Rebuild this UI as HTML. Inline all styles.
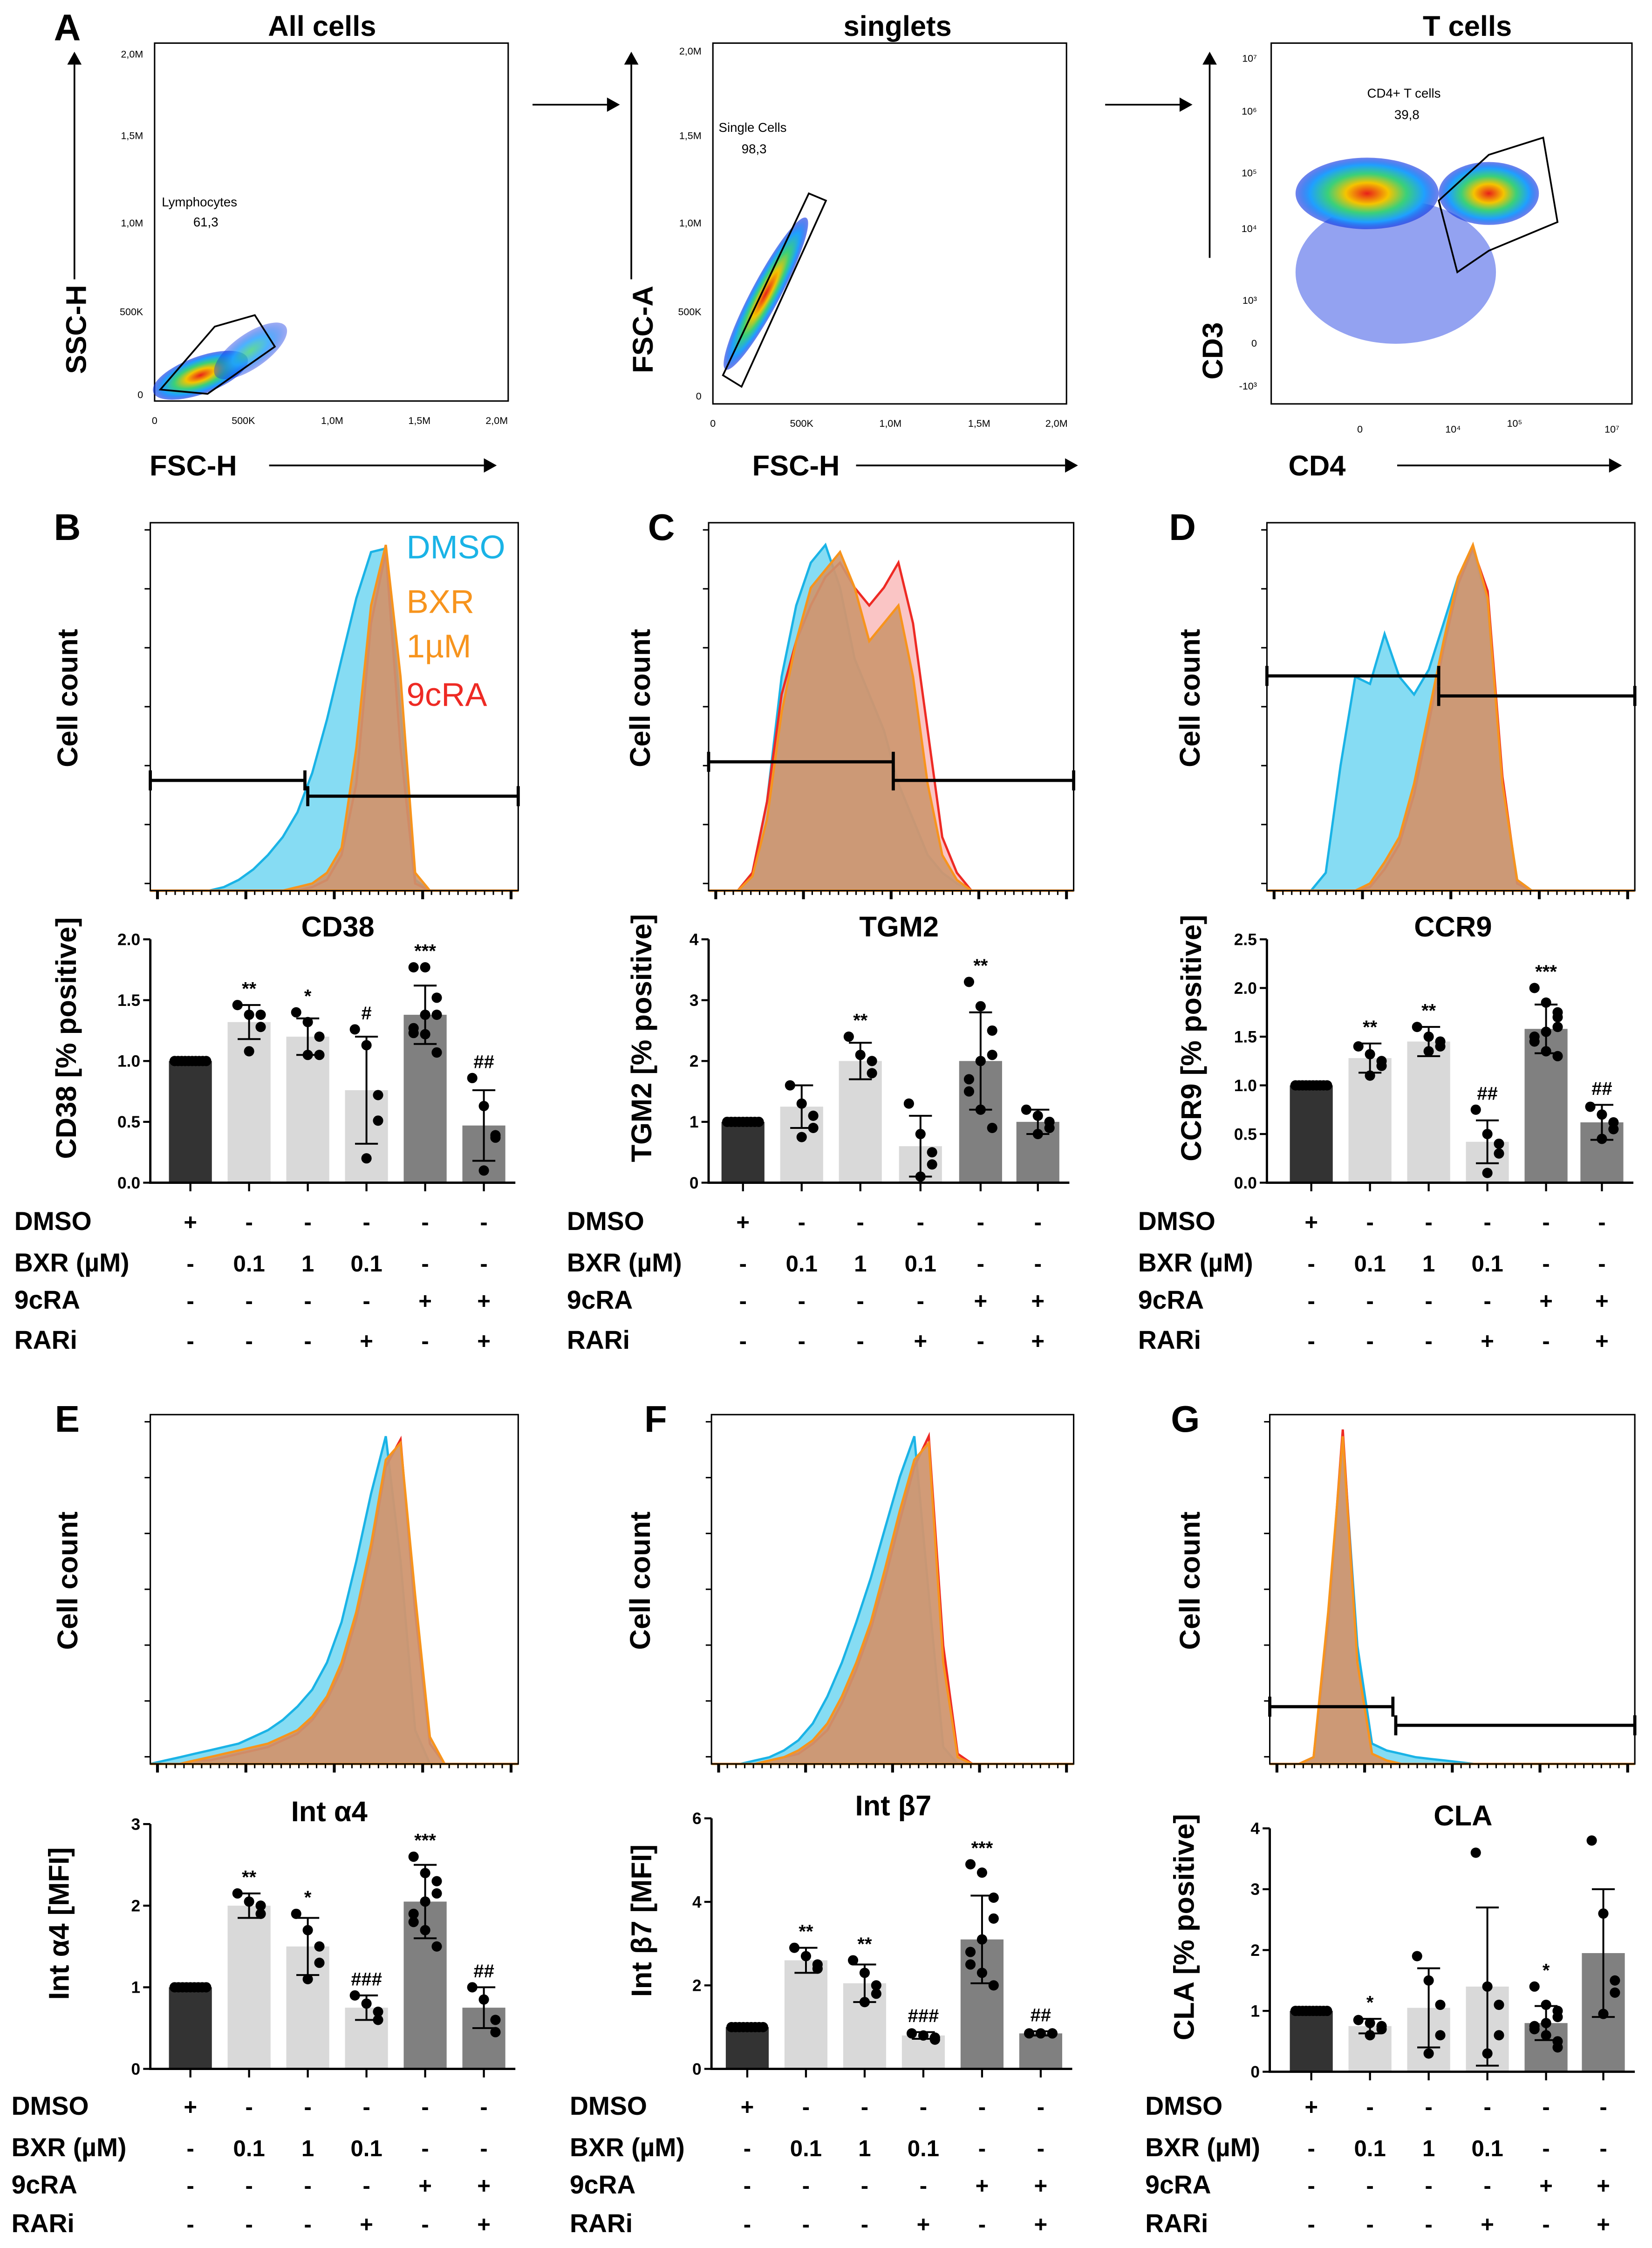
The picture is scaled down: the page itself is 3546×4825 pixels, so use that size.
<!DOCTYPE html>
<html><head><meta charset="utf-8"><style>
html,body{margin:0;padding:0;background:#fff;}
svg{display:block;}
text{font-family:"Liberation Sans",Arial,sans-serif;}
</style></head><body>
<svg id="fig" xmlns="http://www.w3.org/2000/svg" width="3546" height="4825" viewBox="0 0 1154 1570">
<rect x="0" y="0" width="1154" height="1570" fill="#fff"/>
<defs>
<radialGradient id="dens" cx="50%" cy="50%" r="50%">
<stop offset="0" stop-color="#e8201a"/><stop offset="0.3" stop-color="#f5c400"/><stop offset="0.55" stop-color="#3ad07a"/><stop offset="0.8" stop-color="#1fa0ff"/><stop offset="1" stop-color="#1030e0" stop-opacity="0.6"/>
</radialGradient>
<radialGradient id="dens2" cx="50%" cy="50%" r="50%">
<stop offset="0" stop-color="#3ad07a"/><stop offset="0.5" stop-color="#1fa0ff"/><stop offset="1" stop-color="#1030e0" stop-opacity="0.5"/>
</radialGradient>
</defs>
<g id="flow">
<text x="47" y="28" font-size="26" font-weight="bold" text-anchor="middle">A</text>
<text x="225" y="25" font-size="20" font-weight="bold" text-anchor="middle">All cells</text>
<rect x="108" y="30" width="247" height="250" fill="none" stroke="#000" stroke-width="1"/>
<ellipse cx="140" cy="262" rx="35" ry="13" fill="url(#dens)" transform="rotate(-20 140 262)"/>
<ellipse cx="175" cy="245" rx="30" ry="12" fill="url(#dens2)" opacity="0.8" transform="rotate(-35 175 245)"/>
<polygon points="112,272 150,228 178,220 192,242 145,275" fill="none" stroke="#000" stroke-width="1.2"/>
<text x="113" y="144" font-size="9">Lymphocytes</text>
<text x="135" y="158" font-size="9">61,3</text>
<g font-size="7" text-anchor="end">
<text x="100" y="40">2,0M</text><text x="100" y="97">1,5M</text><text x="100" y="158">1,0M</text><text x="100" y="220">500K</text><text x="100" y="278">0</text>
</g>
<g font-size="7" text-anchor="middle">
<text x="108" y="296">0</text><text x="170" y="296">500K</text><text x="232" y="296">1,0M</text><text x="293" y="296">1,5M</text><text x="347" y="296">2,0M</text>
</g>
<text transform="translate(60,230) rotate(-90)" font-size="20" font-weight="bold" text-anchor="middle">SSC-H</text>
<line x1="52" y1="195" x2="52" y2="45" stroke="#000" stroke-width="1.2"/><polygon points="47,45 57,45 52,36" fill="#000"/>
<text x="135" y="332" font-size="20" font-weight="bold" text-anchor="middle">FSC-H</text>
<line x1="188" y1="325" x2="338" y2="325" stroke="#000" stroke-width="1.2"/><polygon points="338,320 338,330 347,325" fill="#000"/>
<line x1="372" y1="73" x2="424" y2="73" stroke="#000" stroke-width="1.2"/><polygon points="424,68 424,78 433,73" fill="#000"/>
<text x="627" y="25" font-size="20" font-weight="bold" text-anchor="middle">singlets</text>
<rect x="498" y="30" width="247" height="252" fill="none" stroke="#000" stroke-width="1"/>
<ellipse cx="535" cy="205" rx="60" ry="10" fill="url(#dens)" transform="rotate(-62 535 205)"/>
<polygon points="505,262 565,135 577,140 518,270" fill="none" stroke="#000" stroke-width="1.2"/>
<text x="502" y="92" font-size="9">Single Cells</text><text x="518" y="107" font-size="9">98,3</text>
<g font-size="7" text-anchor="end">
<text x="490" y="38">2,0M</text><text x="490" y="97">1,5M</text><text x="490" y="158">1,0M</text><text x="490" y="220">500K</text><text x="490" y="279">0</text>
</g>
<g font-size="7" text-anchor="middle">
<text x="498" y="298">0</text><text x="560" y="298">500K</text><text x="622" y="298">1,0M</text><text x="684" y="298">1,5M</text><text x="738" y="298">2,0M</text>
</g>
<text transform="translate(456,230) rotate(-90)" font-size="20" font-weight="bold" text-anchor="middle">FSC-A</text>
<line x1="441" y1="195" x2="441" y2="45" stroke="#000" stroke-width="1.2"/><polygon points="436,45 446,45 441,36" fill="#000"/>
<text x="556" y="332" font-size="20" font-weight="bold" text-anchor="middle">FSC-H</text>
<line x1="598" y1="325" x2="744" y2="325" stroke="#000" stroke-width="1.2"/><polygon points="744,320 744,330 753,325" fill="#000"/>
<line x1="772" y1="73" x2="824" y2="73" stroke="#000" stroke-width="1.2"/><polygon points="824,68 824,78 833,73" fill="#000"/>
<text x="1025" y="25" font-size="20" font-weight="bold" text-anchor="middle">T cells</text>
<rect x="888" y="30" width="252" height="252" fill="none" stroke="#000" stroke-width="1"/>
<ellipse cx="975" cy="190" rx="70" ry="50" fill="#1030e0" opacity="0.45"/>
<ellipse cx="955" cy="135" rx="50" ry="25" fill="url(#dens)"/>
<ellipse cx="1040" cy="135" rx="35" ry="22" fill="url(#dens)"/>
<polygon points="1005,140 1040,108 1078,96 1088,155 1040,175 1018,190" fill="none" stroke="#000" stroke-width="1.2"/>
<text x="955" y="68" font-size="9">CD4+ T cells</text><text x="974" y="83" font-size="9">39,8</text>
<g font-size="7" text-anchor="end">
<text x="878" y="43">10⁷</text><text x="878" y="80">10⁶</text><text x="878" y="123">10⁵</text><text x="878" y="162">10⁴</text><text x="878" y="212">10³</text><text x="878" y="242">0</text><text x="878" y="272">-10³</text>
</g>
<g font-size="7" text-anchor="middle">
<text x="950" y="302">0</text><text x="1015" y="302">10⁴</text><text x="1058" y="298">10⁵</text><text x="1126" y="302">10⁷</text>
</g>
<text transform="translate(854,245) rotate(-90)" font-size="20" font-weight="bold" text-anchor="middle">CD3</text>
<line x1="845" y1="180" x2="845" y2="45" stroke="#000" stroke-width="1.2"/><polygon points="840,45 850,45 845,36" fill="#000"/>
<text x="920" y="332" font-size="20" font-weight="bold" text-anchor="middle">CD4</text>
<line x1="976" y1="325" x2="1124" y2="325" stroke="#000" stroke-width="1.2"/><polygon points="1124,320 1124,330 1133,325" fill="#000"/>
</g>
<g id="hists"></g>
<g id="bars"></g>
</svg>
<script>
const histBDmso=[0,0,0,0,0,0.01,0.03,0.06,0.1,0.15,0.22,0.33,0.48,0.65,0.82,0.95,0.96,0.5,0.03,0,0,0,0,0,0,0];
const histBBxr=[0,0,0,0,0,0,0,0,0,0,0.01,0.02,0.05,0.12,0.4,0.8,0.97,0.6,0.05,0,0,0,0,0,0,0];
const histB9cra=[0,0,0,0,0,0,0,0,0,0,0,0.01,0.03,0.1,0.3,0.75,0.95,0.4,0.02,0,0,0,0,0,0,0];
const histCDmso=[0,0,0,0.05,0.25,0.6,0.8,0.92,0.97,0.85,0.65,0.55,0.45,0.3,0.2,0.1,0.05,0.02,0,0,0,0,0,0,0,0];
const histCBxr=[0,0,0,0.04,0.2,0.5,0.7,0.85,0.9,0.95,0.85,0.7,0.75,0.8,0.6,0.3,0.1,0.03,0,0,0,0,0,0,0,0];
const histC9cra=[0,0,0,0.05,0.25,0.55,0.7,0.8,0.88,0.92,0.85,0.8,0.85,0.92,0.75,0.45,0.15,0.05,0,0,0,0,0,0,0,0];
const histDDmso=[0,0,0,0,0.05,0.35,0.6,0.58,0.72,0.6,0.55,0.62,0.75,0.88,0.96,0.8,0.3,0.03,0,0,0,0,0,0,0,0];
const histDBxr=[0,0,0,0,0,0,0,0.02,0.08,0.15,0.3,0.5,0.7,0.88,0.97,0.82,0.3,0.03,0,0,0,0,0,0,0,0];
const histD9cra=[0,0,0,0,0,0,0,0.01,0.06,0.13,0.27,0.47,0.68,0.86,0.96,0.84,0.32,0.02,0,0,0,0,0,0,0,0];
const histEDmso=[0,0.01,0.02,0.03,0.04,0.05,0.06,0.08,0.1,0.13,0.17,0.22,0.3,0.42,0.6,0.8,0.97,0.6,0.1,0,0,0,0,0,0,0];
const histEBxr=[0,0,0,0.01,0.02,0.03,0.04,0.05,0.06,0.08,0.1,0.14,0.2,0.3,0.45,0.65,0.9,0.95,0.5,0.08,0,0,0,0,0,0];
const histE9cra=[0,0,0,0.01,0.01,0.02,0.03,0.04,0.05,0.07,0.09,0.13,0.19,0.28,0.43,0.63,0.88,0.96,0.45,0.06,0,0,0,0,0,0];
const histFDmso=[0,0,0,0.01,0.02,0.04,0.07,0.12,0.2,0.3,0.42,0.55,0.7,0.85,0.97,0.5,0.05,0,0,0,0,0,0,0,0,0];
const histFBxr=[0,0,0,0,0.01,0.02,0.04,0.07,0.12,0.2,0.3,0.42,0.58,0.75,0.9,0.95,0.3,0.02,0,0,0,0,0,0,0,0];
const histF9cra=[0,0,0,0,0.01,0.02,0.03,0.06,0.1,0.18,0.28,0.4,0.55,0.72,0.88,0.97,0.35,0.03,0,0,0,0,0,0,0,0];
const histGDmso=[0,0,0,0.02,0.4,0.97,0.35,0.06,0.04,0.03,0.02,0.015,0.01,0.005,0,0,0,0,0,0,0,0,0,0,0,0];
const histGBxr=[0,0,0,0.02,0.45,0.97,0.3,0.03,0.01,0,0,0,0,0,0,0,0,0,0,0,0,0,0,0,0,0];
const histG9cra=[0,0,0,0.02,0.42,0.99,0.3,0.03,0.01,0,0,0,0,0,0,0,0,0,0,0,0,0,0,0,0,0];

const conditions=["DMSO","BXR 0.1","BXR 1","BXR 0.1 + RARi","9cRA","9cRA + RARi"];
const cd38Means=[1.0,1.32,1.2,0.76,1.38,0.47];
const cd38Err=[0,0.14,0.15,0.44,0.24,0.29];
const cd38Pts=[[1,1,1,1,1,1,1,1,1,1],[1.46,1.38,1.38,1.28,1.08],[1.4,1.32,1.2,1.05,1.05],[1.26,1.13,0.72,0.51,0.2],[1.77,1.77,1.52,1.38,1.38,1.27,1.23,1.22,1.07,1.07],[0.86,0.63,0.39,0.37,0.1]];
const cd38Sig=["","**","*","#","***","##"];
const cd38Ticks=["0.0","0.5","1.0","1.5","2.0"];
const tgm2Means=[1.0,1.25,2.0,0.6,2.0,1.0];
const tgm2Err=[0,0.35,0.3,0.5,0.8,0.2];
const tgm2Pts=[[1,1,1,1,1,1,1,1,1],[1.6,1.3,1.1,0.9,0.75],[2.4,2.1,2.0,1.8],[1.3,0.8,0.5,0.3,0.1],[3.3,2.9,2.5,2.1,2.0,1.7,1.5,1.2,0.9],[1.2,1.1,1.0,0.9,0.8]];
const tgm2Sig=["","","**","","**",""];
const tgm2Ticks=["0","1","2","3","4"];
const ccr9Means=[1.0,1.28,1.45,0.42,1.58,0.62];
const ccr9Err=[0,0.15,0.15,0.22,0.25,0.18];
const ccr9Pts=[[1,1,1,1,1,1,1,1,1,1],[1.4,1.32,1.25,1.2,1.1],[1.6,1.5,1.45,1.4,1.35],[0.75,0.5,0.4,0.3,0.1],[2.0,1.85,1.75,1.6,1.55,1.5,1.45,1.35,1.3,1.7],[0.78,0.7,0.62,0.55,0.45]];
const ccr9Sig=["","**","**","##","***","##"];
const ccr9Ticks=["0.0","0.5","1.0","1.5","2.0","2.5"];
const a4Means=[1.0,2.0,1.5,0.75,2.05,0.75];
const a4Err=[0,0.15,0.35,0.15,0.45,0.25];
const a4Pts=[[1,1,1,1,1,1,1,1,1],[2.15,2.05,2.0,1.9],[1.9,1.7,1.5,1.3,1.1],[0.9,0.8,0.7,0.6],[2.6,2.4,2.3,2.15,2.05,1.9,1.8,1.7,1.5],[1.0,0.85,0.6,0.45]];
const a4Sig=["","**","*","###","***","##"];
const a4Ticks=["0","1","2","3"];
const b7Means=[1.0,2.6,2.05,0.8,3.1,0.85];
const b7Err=[0,0.3,0.45,0.08,1.05,0.05];
const b7Pts=[[1,1,1,1,1,1,1,1,1],[2.9,2.7,2.5,2.4],[2.6,2.3,2.0,1.8,1.6],[0.85,0.8,0.75,0.7],[4.9,4.7,4.1,3.6,3.1,2.8,2.5,2.3,2.0],[0.85,0.85,0.85,0.85]];
const b7Sig=["","**","**","###","***","##"];
const b7Ticks=["0","2","4","6"];
const claMeans=[1.0,0.75,1.05,1.4,0.8,1.95];
const claErr=[0,0.12,0.65,1.3,0.28,1.05];
const claPts=[[1,1,1,1,1,1,1,1,1,1],[0.85,0.8,0.75,0.7,0.6],[1.9,1.5,1.1,0.6,0.3],[3.6,1.4,1.1,0.6,0.3],[1.4,1.1,1.0,0.9,0.8,0.75,0.7,0.6,0.5,0.4],[3.8,2.6,1.5,1.3,0.95]];
const claSig=["","*","","","*",""];
const claTicks=["0","1","2","3","4"];
const rowDmso=["+","-","-","-","-","-"];
const rowBxr=["-","0.1","1","0.1","-","-"];
const row9cra=["-","-","-","-","+","+"];
const rowRari=["-","-","-","+","-","+"];
const barColors=["#333333","#d9d9d9","#d9d9d9","#d9d9d9","#808080","#808080"];

const NS="http://www.w3.org/2000/svg";
function mk(tag,parent){const e=document.createElementNS(NS,tag);parent.appendChild(e);return e;}
const H=document.getElementById('hists');
const B=document.getElementById('bars');

function hist(letter,x0,y0,w,h,dm,bx,ra,gates,labelX,ylX){
  const g=mk('g',H);
  
  
  const sx=i=>x0+i*w/(dm.length-1);
  const sy=v=>y0+h-v*(h-8);
  function area(arr,fill,stroke,name){
    let d='M'+x0+','+(y0+h);
    arr.forEach((v,i)=>{d+=' L'+sx(i).toFixed(1)+','+sy(v).toFixed(1);});
    d+=' L'+(x0+w)+','+(y0+h)+'Z';
    const p=mk('path',g);
    p.setAttribute('d',d);p.setAttribute('fill',fill);p.setAttribute('stroke',stroke);p.setAttribute('stroke-width','1.6');
    
    
  }
  area(dm,'#86dcf3','#1ab3e6','histogram-dmso-'+letter);
  area(ra,'rgba(245,150,150,0.55)','#ee2a24','histogram-9cra-'+letter);
  area(bx,'rgba(205,150,110,0.9)','#f7941d','histogram-bxr-'+letter);
  const fr=mk('rect',g);
  fr.setAttribute('x',x0);fr.setAttribute('y',y0);fr.setAttribute('width',w);fr.setAttribute('height',h);fr.setAttribute('fill','none');fr.setAttribute('stroke','#000');fr.setAttribute('stroke-width','1');
  
  
  for(let i=0;i<=40;i++){
    const t=mk('line',g);const xx=x0+5+i*(w-10)/40;const big=(i%10==0);
    t.setAttribute('x1',xx);t.setAttribute('x2',xx);t.setAttribute('y1',y0+h);t.setAttribute('y2',y0+h+(big?6:3));t.setAttribute('stroke','#000');t.setAttribute('stroke-width',big?2:1);
  }
  for(let i=0;i<=6;i++){
    const t=mk('line',g);const yy=y0+5+i*(h-10)/6;
    t.setAttribute('x1',x0-4);t.setAttribute('x2',x0);t.setAttribute('y1',yy);t.setAttribute('y2',yy);t.setAttribute('stroke','#000');
  }
  if(gates){
    gates.forEach((gt,k)=>{
      const l=mk('path',g);
      l.setAttribute('d','M'+gt[0]+','+(gt[2]-7)+' V'+(gt[2]+7)+' M'+gt[0]+','+gt[2]+' H'+gt[1]+' M'+gt[1]+','+(gt[2]-7)+' V'+(gt[2]+7));
      l.setAttribute('stroke','#000');l.setAttribute('stroke-width','2.2');l.setAttribute('fill','none');
      
      
    });
  }
  const lt=mk('text',g);lt.textContent=letter;
  lt.setAttribute('x',labelX);lt.setAttribute('y',y0+12);lt.setAttribute('font-size','26');lt.setAttribute('font-weight','bold');lt.setAttribute('text-anchor','middle');
  
  
  const yl=mk('text',g);yl.textContent='Cell count';
  yl.setAttribute('transform','translate('+ylX+','+(y0+h/2-6)+') rotate(-90)');yl.setAttribute('font-size','20');yl.setAttribute('font-weight','bold');yl.setAttribute('text-anchor','middle');
  
  
}
hist('B',105,365,257,257,histBDmso,histBBxr,histB9cra,[[105,213,545],[215,362,556]],47,54);
hist('C',495,365,255,257,histCDmso,histCBxr,histC9cra,[[495,624,532],[624,750,545]],462,454);
hist('D',885,365,257,257,histDDmso,histDBxr,histD9cra,[[885,1005,472],[1005,1142,486]],826,838);
hist('E',105,988,257,244,histEDmso,histEBxr,histE9cra,null,47,54);
hist('F',497,988,253,244,histFDmso,histFBxr,histF9cra,null,458,454);
hist('G',887,988,255,244,histGDmso,histGBxr,histG9cra,[[887,973,1192],[975,1142,1205]],828,838);

[["DMSO","#1ab3e6",390],["BXR","#f7941d",428],["1µM","#f7941d",459],["9cRA","#ee2a24",493]].forEach((l,i)=>{
  const t=mk('text',H);t.textContent=l[0];
  t.setAttribute('x',284);t.setAttribute('y',l[2]);t.setAttribute('font-size','23');t.setAttribute('fill',l[1]);
  
  
});

function barChart(id,title,ylabel,axisX,yTop,yBot,maxV,ticks,means,err,pts,sig,centers,labelX,rowsY,titleX,ylX){
  const g=mk('g',B);
  
  
  const sy=v=>yBot-(v/maxV)*(yBot-yTop);
  const bw=30;
  means.forEach((m,i)=>{
    const r=mk('rect',g);
    r.setAttribute('x',centers[i]-bw/2);r.setAttribute('y',sy(m));r.setAttribute('width',bw);r.setAttribute('height',yBot-sy(m));r.setAttribute('fill',barColors[i]);
    
    
  });
  means.forEach((m,i)=>{
    if(err[i]>0){
      const e=mk('path',g);
      const c=centers[i];
      e.setAttribute('d','M'+c+','+sy(m+err[i])+' V'+sy(Math.max(0,m-err[i]))+' M'+(c-8)+','+sy(m+err[i])+' H'+(c+8)+' M'+(c-8)+','+sy(Math.max(0,m-err[i]))+' H'+(c+8));
      e.setAttribute('stroke','#000');e.setAttribute('stroke-width','1.3');e.setAttribute('fill','none');
      
      
    }
  });
  pts.forEach((arr,i)=>{
    const n=arr.length;
    arr.forEach((v,k)=>{
      const off=(i==0)? (k-(n-1)/2)*(22/(n-1)) : ((k%3)-1)*9*(k%2==0?1:-1)*0.9;
      const c=mk('circle',g);
      c.setAttribute('cx',centers[i]+off);c.setAttribute('cy',sy(v));c.setAttribute('r','3.6');c.setAttribute('fill','#000');
      
      
    });
  });
  sig.forEach((s,i)=>{
    if(!s)return;
    const top=Math.max(means[i]+err[i],Math.max.apply(null,pts[i]));
    const t=mk('text',g);t.textContent=s;
    t.setAttribute('x',centers[i]);t.setAttribute('y',sy(top)-7);t.setAttribute('font-size','13');t.setAttribute('font-weight','bold');t.setAttribute('text-anchor','middle');
    
    
  });
  const ax=mk('path',g);
  ax.setAttribute('d','M'+axisX+','+yTop+' V'+yBot+' H'+(centers[5]+22));
  ax.setAttribute('stroke','#000');ax.setAttribute('stroke-width','1.6');ax.setAttribute('fill','none');
  
  
  ticks.forEach((tl,k)=>{
    const v=k*maxV/(ticks.length-1);
    const tk=mk('line',g);
    tk.setAttribute('x1',axisX-5);tk.setAttribute('x2',axisX);tk.setAttribute('y1',sy(v));tk.setAttribute('y2',sy(v));tk.setAttribute('stroke','#000');tk.setAttribute('stroke-width','1.4');
    const t=mk('text',g);t.textContent=tl;
    t.setAttribute('x',axisX-7);t.setAttribute('y',sy(v)+4);t.setAttribute('font-size','11.5');t.setAttribute('font-weight','bold');t.setAttribute('text-anchor','end');
    
    
  });
  centers.forEach((c,i)=>{
    const tk=mk('line',g);
    tk.setAttribute('x1',c);tk.setAttribute('x2',c);tk.setAttribute('y1',yBot);tk.setAttribute('y2',yBot+6);tk.setAttribute('stroke','#000');tk.setAttribute('stroke-width','1.4');
  });
  const tt=mk('text',g);tt.textContent=title;
  tt.setAttribute('x',titleX);tt.setAttribute('y',yTop-2);tt.setAttribute('font-size','20');tt.setAttribute('font-weight','bold');tt.setAttribute('text-anchor','middle');
  
  
  const yl=mk('text',g);yl.textContent=ylabel;
  yl.setAttribute('transform','translate('+ylX+','+((yTop+yBot)/2-16)+') rotate(-90)');yl.setAttribute('font-size','20');yl.setAttribute('font-weight','bold');yl.setAttribute('text-anchor','middle');
  
  
  const rows=[["DMSO",rowDmso],["BXR (µM)",rowBxr],["9cRA",row9cra],["RARi",rowRari]];
  rows.forEach((r,k)=>{
    const t=mk('text',g);t.textContent=r[0];
    t.setAttribute('x',labelX);t.setAttribute('y',rowsY[k]+6);t.setAttribute('font-size','18');t.setAttribute('font-weight','bold');
    
    
    r[1].forEach((s,i)=>{
      const c=mk('text',g);c.textContent=s;
      c.setAttribute('x',centers[i]);c.setAttribute('y',rowsY[k]+6);c.setAttribute('font-size','16');c.setAttribute('font-weight','bold');c.setAttribute('text-anchor','middle');
      
      
    });
  });
}
barChart('cd38','CD38','CD38 [% positive]',105,656,826,2,cd38Ticks,cd38Means,cd38Err,cd38Pts,cd38Sig,[133,174,215,256,297,338],10,[853,882,908,936],236,53);
barChart('tgm2','TGM2','TGM2 [% positive]',495,656,826,4,tgm2Ticks,tgm2Means,tgm2Err,tgm2Pts,tgm2Sig,[519,560,601,643,685,725],396,[853,882,908,936],628,455);
barChart('ccr9','CCR9','CCR9 [% positive]',885,656,826,2.5,ccr9Ticks,ccr9Means,ccr9Err,ccr9Pts,ccr9Sig,[916,957,998,1039,1080,1119],795,[853,882,908,936],1015,839);
barChart('int-a4','Int α4','Int α4  [MFI]',105,1274,1445,3,a4Ticks,a4Means,a4Err,a4Pts,a4Sig,[133,174,215,256,297,338],8,[1471,1500,1526,1553],230,48);
barChart('int-b7','Int β7','Int β7 [MFI]',497,1270,1445,6,b7Ticks,b7Means,b7Err,b7Pts,b7Sig,[522,563,604,645,686,727],398,[1471,1500,1526,1553],624,455);
barChart('cla','CLA','CLA [% positive]',887,1277,1447,4,claTicks,claMeans,claErr,claPts,claSig,[916,957,998,1039,1080,1120],800,[1471,1500,1526,1553],1022,834);
</script>
</body></html>
